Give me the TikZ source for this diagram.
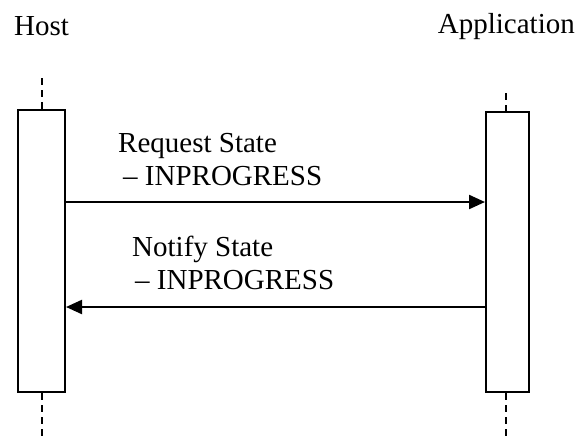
\documentclass[tikz,border=0pt]{standalone}
\usepackage{fontspec}
\setmainfont{Liberation Serif}
\usetikzlibrary{arrows.meta}
\begin{document}
\begin{tikzpicture}[x=1pt,y=-1pt,
  lifebox/.style={draw,line width=2pt,fill=white,inner sep=0pt},
  lifeline/.style={line width=2.2pt,dash pattern=on 7pt off 5pt},
  msg/.style={line width=2.2pt,-{Triangle[length=16pt,width=14pt]}},
  lbl/.style={inner sep=0pt,font=\fontsize{29}{33}\selectfont,align=left}]
\useasboundingbox (0,0) rectangle (577,440);
\node[lbl,anchor=base west] (host) at (14,35) {Host};
\node[lbl,anchor=base east] (app) at (575,33) {Application};
\node[lifebox,minimum width=47pt,minimum height=282pt] (lbox) at (41.5,251) {};
\node[lifebox,minimum width=43pt,minimum height=280pt] (rbox) at (507.5,252) {};
\coordinate (ltop) at (42,78);
\coordinate (lbot) at (42,440);
\coordinate (rtop) at (506,93);
\coordinate (rbot) at (506,440);
\draw[lifeline] (ltop) -- (lbox.north -| ltop);
\draw[lifeline] (lbox.south -| lbot) -- (lbot);
\draw[lifeline] (rtop) -- (rbox.north -| rtop);
\draw[lifeline] (rbox.south -| rbot) -- (rbot);
\coordinate (m1) at (0,202);
\coordinate (m2) at (0,307);
\draw[msg] (lbox.east |- m1) -- (rbox.west |- m1);
\draw[msg] (rbox.west |- m2) -- (lbox.east |- m2);
\node[lbl,anchor=base west] (req) at (118,185) {Request State\\\hspace*{5pt}– INPROGRESS};
\node[lbl,anchor=base west] (noti) at (132,289) {Notify State\\\hspace*{3pt}– INPROGRESS};
\end{tikzpicture}
\end{document}
